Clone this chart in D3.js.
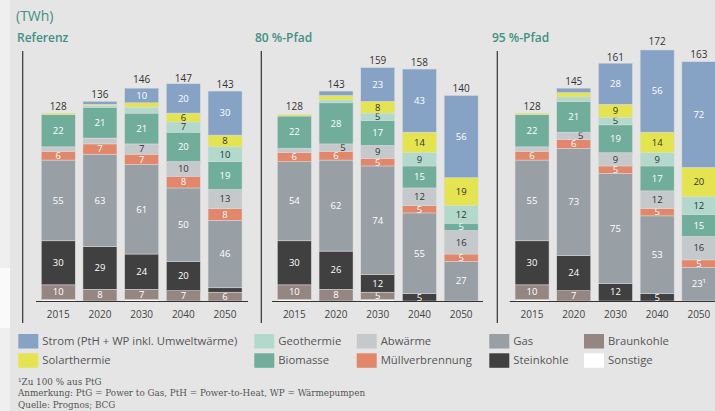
<!DOCTYPE html>
<html>
<head>
<meta charset="utf-8">
<script src="https://cdn.jsdelivr.net/npm/d3@7"></script>
<style>
  body { margin: 0; background: #e5e5e5; }
  svg { display: block; font-family: "Open Sans", "Noto Sans", sans-serif; }
</style>
</head>
<body>
<svg width="715" height="411"></svg>
<script>
// Kategorien und Szenarien
const years = ["2015", "2020", "2030", "2040", "2050"];
const panels = ["Referenz", "80 %-Pfad", "95 %-Pfad"];
const sources = ["Sonstige", "Braunkohle", "Steinkohle", "Gas", "Müllverbrennung",
                 "Abwärme", "Biomasse", "Geothermie", "Solarthermie", "Strom"];

// Werte je Szenario, Reihenfolge wie sources (von unten nach oben)
const referenz = [
  [1, 10, 30, 55, 6, 3, 22, 0, 1, 0],
  [0, 8, 29, 63, 7, 4, 21, 1, 1, 2],
  [1, 7, 24, 61, 7, 7, 21, 4, 3, 10],
  [0, 7, 20, 50, 8, 10, 20, 7, 6, 20],
  [0, 6, 3, 46, 8, 13, 19, 10, 8, 30]
];
const pfad80 = [
  [1, 10, 30, 54, 6, 3, 22, 0, 1, 0],
  [0, 8, 26, 62, 6, 5, 28, 2, 3, 3],
  [1, 5, 12, 74, 5, 9, 17, 5, 8, 23],
  [0, 0, 5, 55, 5, 12, 15, 9, 14, 43],
  [0, 0, 0, 27, 5, 16, 5, 12, 19, 56]
];
const pfad95 = [
  [1, 10, 30, 55, 6, 3, 22, 0, 1, 0],
  [0, 7, 24, 73, 6, 5, 21, 3, 3, 3],
  [0, 0, 12, 75, 5, 9, 19, 5, 9, 28],
  [0, 0, 5, 53, 5, 12, 17, 9, 14, 56],
  [0, 0, 0, 23, 5, 16, 15, 12, 20, 72]
];
const totals = [
  [128, 136, 146, 147, 143],
  [128, 143, 159, 158, 140],
  [128, 145, 161, 172, 163]
];

// Legende (zwei Zeilen)
const legendRows = [
  ["Strom", "Geothermie", "Abwärme", "Gas", "Braunkohle"],
  ["Solarthermie", "Biomasse", "Müllverbrennung", "Steinkohle", "Sonstige"]
];
const legendNames = { "Strom": "Strom (PtH + WP inkl. Umweltwärme)" };

const notes = [
  "¹Zu 100 % aus PtG",
  "Anmerkung: PtG = Power to Gas, PtH = Power-to-Heat, WP = Wärmepumpen",
  "Quelle: Prognos; BCG"
];

const colors = {
  "Strom": "#86a3c6", "Solarthermie": "#e3e44f", "Geothermie": "#b2d9cb",
  "Biomasse": "#70ae9b", "Abwärme": "#c6c9cc", "Müllverbrennung": "#e2876a",
  "Gas": "#989fa5", "Steinkohle": "#404040", "Braunkohle": "#968682", "Sonstige": "#ffffff"
};
const darkText = ["Solarthermie", "Geothermie", "Abwärme"];

const allData = [referenz, pfad80, pfad95];

let svg = d3.select("svg");

// heller Streifen links
svg.append("rect").attr("x", 0).attr("y", 0).attr("width", 10).attr("height", 411).style("fill", "#efefef");
svg.append("rect").attr("x", 0).attr("y", 268).attr("width", 10).attr("height", 60).style("fill", "#fafafa");

svg.append("text")
  .attr("x", 16).attr("y", 21)
  .style("font-size", "14px").style("fill", "#3f9184")
  .text("(TWh)");

const baseY = 301;
const scaleY = d3.scaleLinear().domain([0, 180]).range([baseY, baseY - 180 * 1.468]);

const scaleX = d3.scaleBand()
  .domain(years)
  .range([0, 208.3])
  .paddingInner(0.185)
  .paddingOuter(0.09);

const panelX = [37.5, 273.6, 511.3];
const axisLineX = [22.7, 261.3, 497.3];
const titleX = [17, 255, 492];
const baseEnd = [248, 483, 715];

panels.forEach((name, p) => {
  svg.append("text")
    .attr("x", titleX[p]).attr("y", 42)
    .style("font-size", "12px").style("font-weight", "600").style("fill", "#3f9184")
    .text(name);

  svg.append("line")
    .attr("x1", axisLineX[p]).attr("x2", axisLineX[p])
    .attr("y1", 51).attr("y2", 323)
    .style("stroke", "#333").style("stroke-width", 1.2);

  let g = svg.append("g").attr("transform", `translate(${panelX[p]},0)`);

  const rows = allData[p].map((vals, i) => {
    let obj = { year: years[i] };
    sources.forEach((s, j) => obj[s] = vals[j]);
    return obj;
  });
  const stack = d3.stack().keys(sources)(rows);

  stack.forEach(layer => {
    g.selectAll(".seg-" + layer.index)
      .data(layer.filter(d => d[1] - d[0] > 0))
      .enter()
      .append("rect")
      .attr("x", d => scaleX(d.data.year))
      .attr("width", scaleX.bandwidth())
      .attr("y", d => scaleY(d[1]))
      .attr("height", d => scaleY(d[0]) - scaleY(d[1]))
      .style("fill", colors[layer.key])
      .style("stroke", "#dcdcdc")
      .style("stroke-width", 0.5);

    g.selectAll(".lab-" + layer.index)
      .data(layer.filter(d => d[1] - d[0] >= 5))
      .enter()
      .append("text")
      .attr("x", d => {
        // kleines Abwärme-Feld 2020: Zahl nach rechts versetzt
        let shift = (layer.key == "Abwärme" && d.data.year == "2020" && p > 0) ? 7 : 0;
        return scaleX(d.data.year) + scaleX.bandwidth() / 2 + shift;
      })
      .attr("y", d => (scaleY(d[0]) + scaleY(d[1])) / 2 + 3.3)
      .attr("text-anchor", "middle")
      .style("font-size", "9.5px")
      .style("fill", darkText.includes(layer.key) ? "#333" : "#fff")
      .text(d => (d[1] - d[0]) + (p == 2 && d.data.year == "2050" && layer.key == "Gas" ? "¹" : ""));
  });

  // Summen
  g.selectAll(".total")
    .data(years)
    .enter()
    .append("text")
    .attr("x", d => scaleX(d) + scaleX.bandwidth() / 2)
    .attr("y", (d, i) => scaleY(totals[p][i]) - 3.5)
    .attr("text-anchor", "middle")
    .style("font-size", "10px").style("fill", "#333")
    .text((d, i) => totals[p][i]);

  // Jahre
  g.selectAll(".year")
    .data(years)
    .enter()
    .append("text")
    .attr("x", d => scaleX(d) + scaleX.bandwidth() / 2)
    .attr("y", 318)
    .attr("text-anchor", "middle")
    .style("font-size", "10px").style("fill", "#444")
    .text(d => d);

  svg.append("line")
    .attr("x1", panelX[p] - 1.5).attr("x2", baseEnd[p])
    .attr("y1", baseY + 0.5).attr("y2", baseY + 0.5)
    .style("stroke", "#333").style("stroke-width", 1);
});

// Legende
const legendX = [18.3, 254.3, 356.7, 489.3, 584];
const legendY = [334, 353.3];
legendRows.forEach((row, r) => {
  row.forEach((s, c) => {
    svg.append("rect")
      .attr("x", legendX[c]).attr("y", legendY[r])
      .attr("width", 20).attr("height", 14.5)
      .style("fill", colors[s]);
    svg.append("text")
      .attr("x", legendX[c] + 24).attr("y", legendY[r] + 11)
      .style("font-size", "11.3px").style("fill", "#555")
      .text(legendNames[s] || s);
  });
});

// Fußnoten
notes.forEach((t, i) => {
  svg.append("text")
    .attr("x", 18).attr("y", 385 + i * 11.3)
    .style("font-family", "'DejaVu Serif', 'Liberation Serif', serif")
    .style("font-size", "8.8px").style("fill", "#555")
    .text(t);
});
</script>
</body>
</html>
